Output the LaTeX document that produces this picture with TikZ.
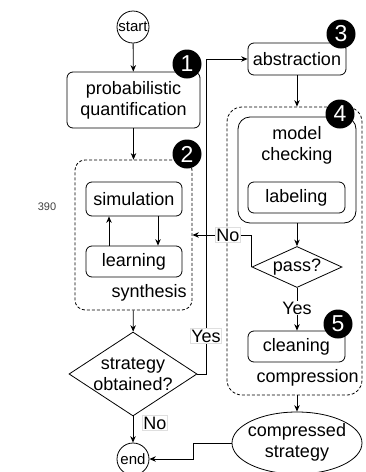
\documentclass[tikz,border=0pt]{standalone}
\usepackage{fontspec}
\setmainfont{Liberation Sans}
\usetikzlibrary{shapes.geometric,arrows.meta}
\begin{document}
\begin{tikzpicture}[x=1pt,y=-1pt,
  line width=0.8pt,
  every node/.style={font=\fontsize{18}{21}\selectfont, align=center},
  box/.style={draw, rounded corners=6pt, inner sep=0pt},
  grp/.style={draw, dash pattern=on 3pt off 2pt, inner sep=0pt},
  term/.style={draw, circle, inner sep=0pt, minimum size=32pt, font=\fontsize{15}{18}\selectfont},
  dia/.style={draw, diamond, inner sep=0pt},
  badge/.style={circle, fill=black, text=white, inner sep=0pt, minimum size=29pt, font=\fontsize{23}{23}\selectfont},
  lbl/.style={fill=white, draw=gray!25, line width=0.5pt, inner sep=1pt},
  arr/.style={-{Stealth[length=6.5pt,width=5.5pt]}}
]
\useasboundingbox (0,0) rectangle (365,472);

\node[font=\fontsize{11}{13}\selectfont, text=black!75] (ln) at (47,207) {390};

% left column
\node[term] (start) at (133,27) {start};
\node[box, minimum width=133pt, minimum height=56pt] (prob) at (133.5,100) {probabilistic\\quantification};
\node[grp, rounded corners=10pt, minimum width=117pt, minimum height=150pt] (syn) at (133.5,235) {};
\node[box, minimum width=96pt, minimum height=34pt] (sim) at (134,199) {simulation};
\node[box, minimum width=96pt, minimum height=31pt] (learn) at (134,261.5) {learning};
\node[anchor=east, inner sep=0pt] (syntxt) at (187,293) {synthesis};
\node[dia, minimum width=128pt, minimum height=84pt] (obt) at (133,374) {};
\node (obttxt) at (133,374) {strategy\\obtained?};
\node[term] (end) at (133,459) {end};

% right column
\node[box, minimum width=98pt, minimum height=32pt] (abs) at (297,59) {abstraction};
\node[grp, rounded corners=15pt, minimum width=135pt, minimum height=288pt] (cmp) at (294.5,251) {};
\node[box, rounded corners=12pt, minimum width=118pt, minimum height=106pt] (mc) at (297,170) {};
\node (mctxt) at (297,145) {model\\checking};
\node[box, minimum width=97pt, minimum height=31pt] (lab) at (296.5,197.5) {labeling};
\node[dia, minimum width=90pt, minimum height=41pt] (pass) at (297,267) {};
\node (passtxt) at (297,267) {pass?};
\node[box, minimum width=97pt, minimum height=31pt] (clean) at (296.5,346.5) {cleaning};
\node[anchor=east, inner sep=0pt] (cmptxt) at (359,378) {compression};
\node[draw, ellipse, inner sep=0pt, minimum width=130pt, minimum height=62pt] (cs) at (297,443) {};
\node (cstxt) at (297,442) {compressed\\strategy};

% connectors
\draw[arr] (start) -- (prob);
\draw[arr] (prob) -- (syn);
\draw[arr] (learn.north -| 109,0) -- (sim.south -| 109,0);
\draw[arr] (sim.south -| 158,0) -- (learn.north -| 158,0);
\draw[arr] (syn) -- (obt);
\draw[arr] (obt) -- (end);
\node[lbl] (no1) at (155,423) {No};
\coordinate (yc) at (206,374);
\draw[arr] (obt.east) -- (yc) |- (abs.west);
\node[lbl] (yes1) at (206,336) {Yes};
\draw[arr] (abs) -- (cmp.north -| abs);
\draw[arr] (mc.south -| pass) -- (pass.north);
\draw[arr] (pass.west) |- (syn.east);
\node[lbl] (no2) at (228,235) {No};
\draw[arr] (pass.south) -- (clean.north -| pass);
\node[fill=white, inner sep=1pt] (yes2) at (297,308) {Yes};
\draw[arr] (cmp.south -| cs) -- (cs.north);
\coordinate (ec) at (193,443);
\draw[arr] (cs.west) -- (ec) |- (end.east);

% badges
\node[badge] (b1) at (187,64) {1};
\node[badge] (b2) at (187,154) {2};
\node[badge] (b3) at (341,34) {3};
\node[badge] (b4) at (340,114) {4};
\node[badge] (b5) at (338,324) {5};
\end{tikzpicture}
\end{document}
